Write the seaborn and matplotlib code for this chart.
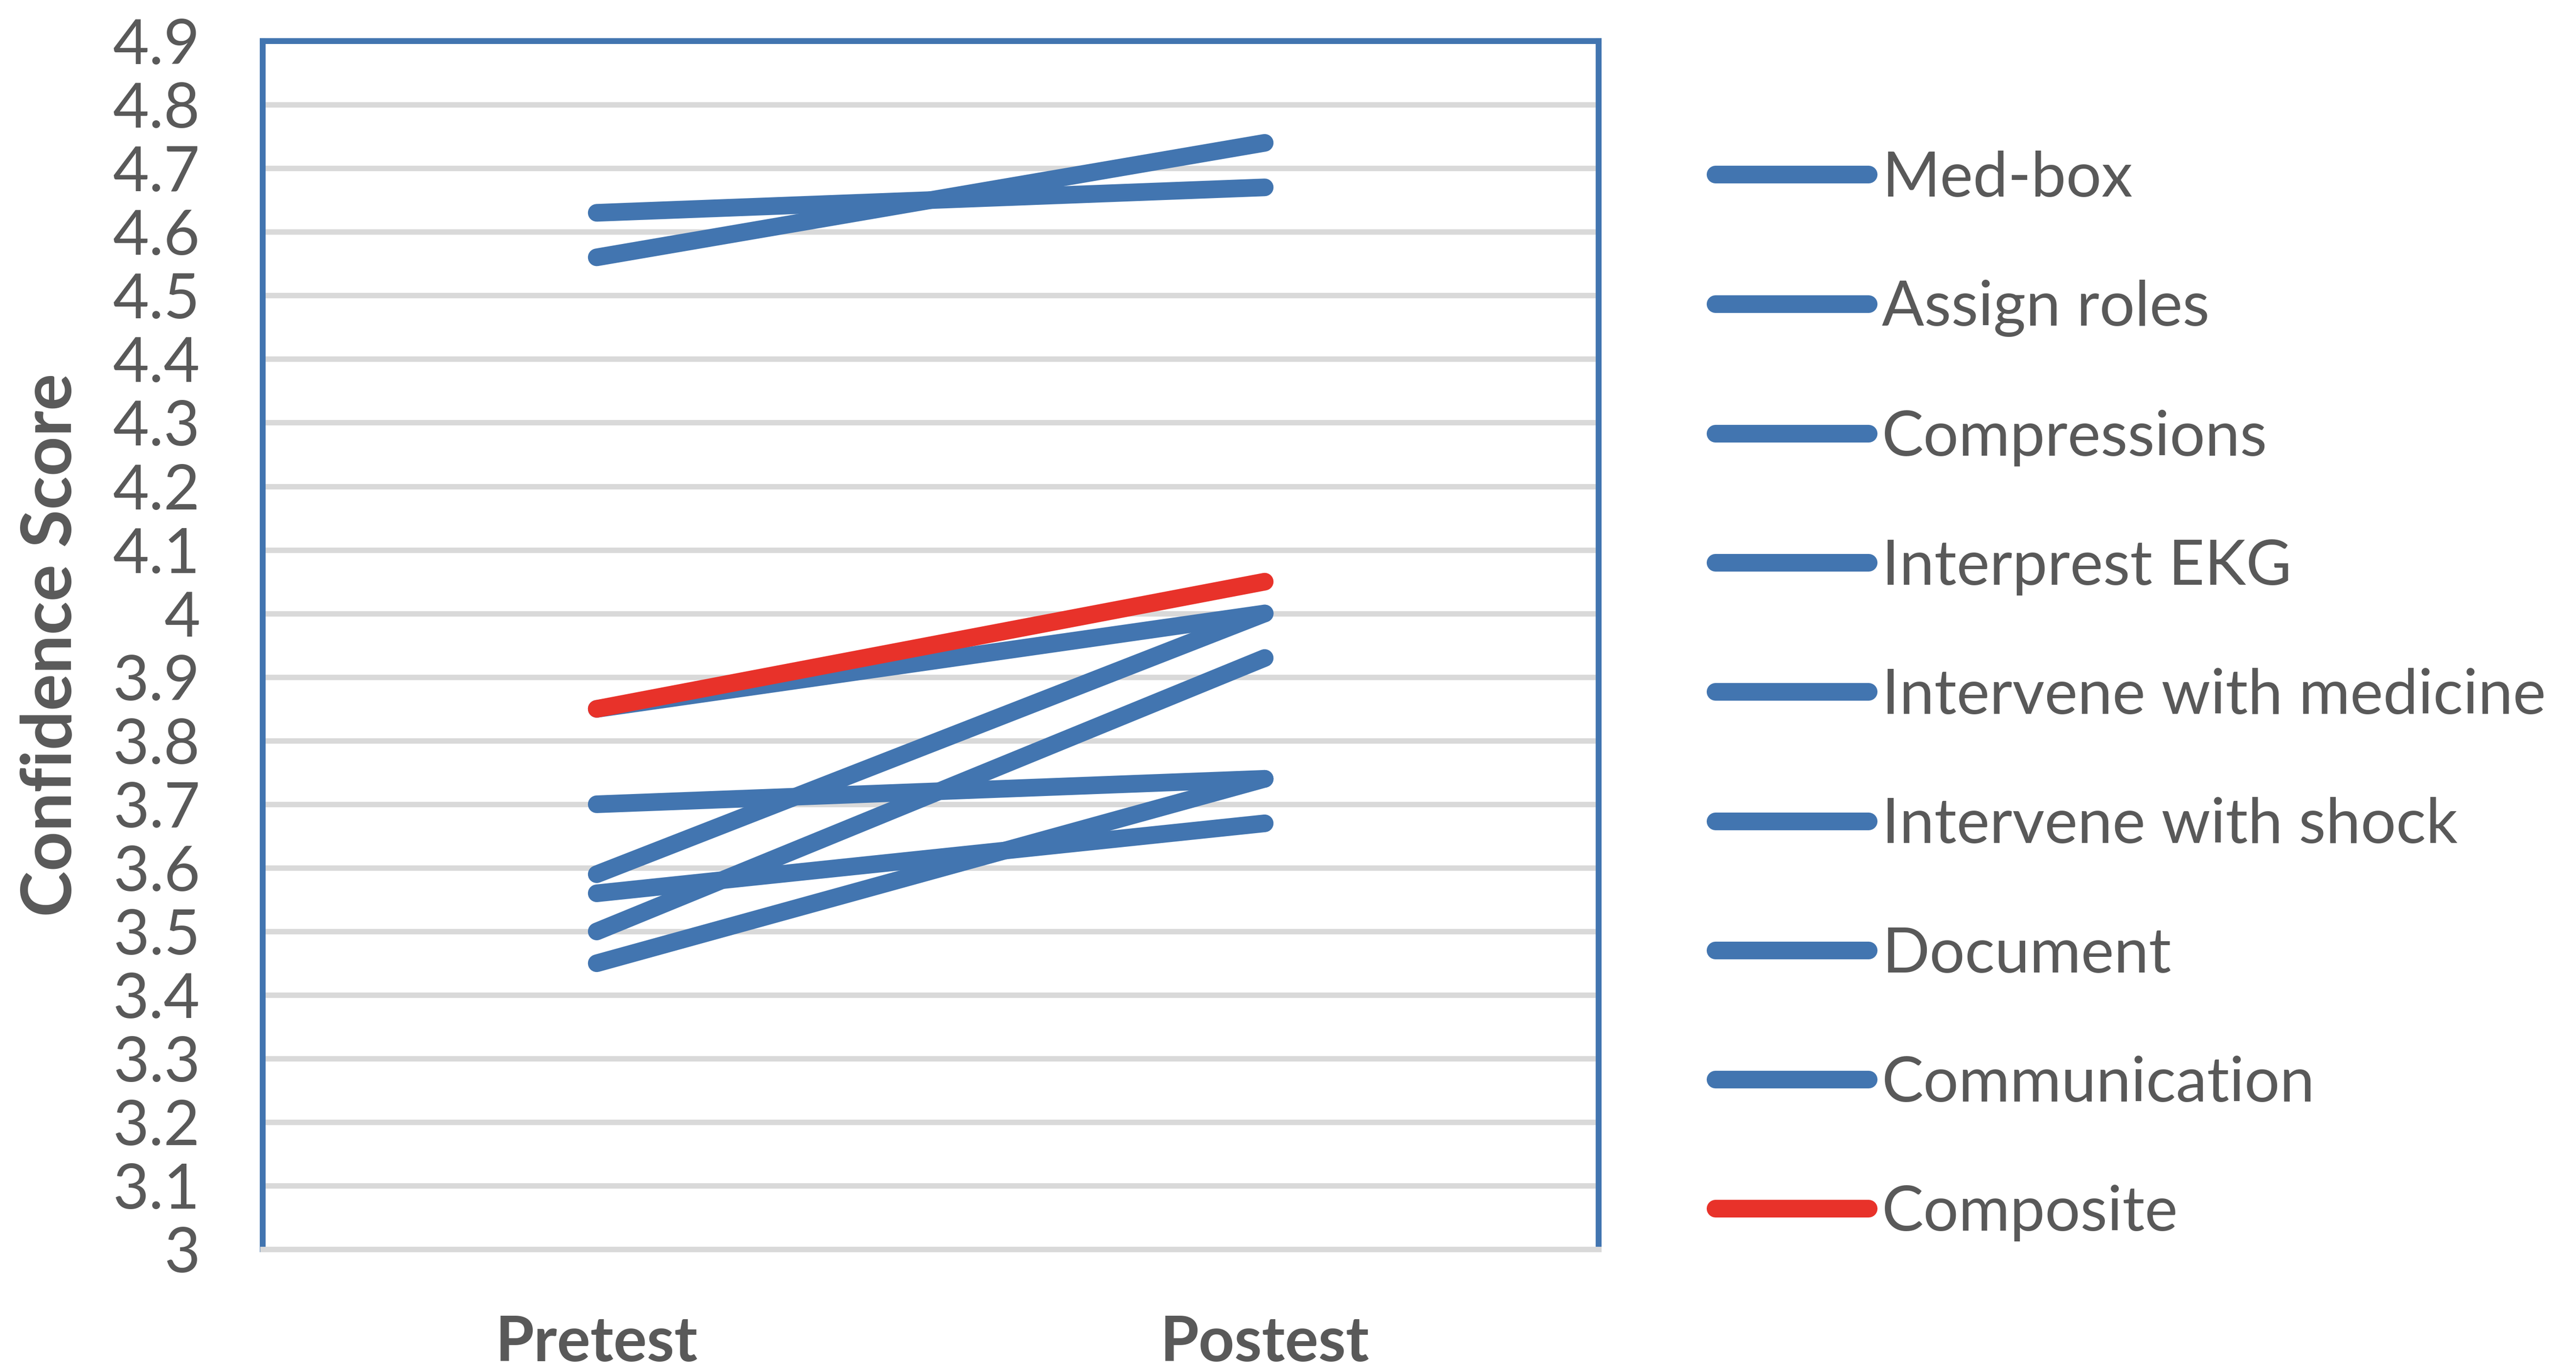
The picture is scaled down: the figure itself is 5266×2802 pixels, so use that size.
import pandas as pd
import matplotlib
matplotlib.use("Agg")
import matplotlib.pyplot as plt
import matplotlib.ticker as mticker
import seaborn as sns

# dados
tests = ["Pretest", "Postest"]
skills = ["Med-box", "Assign roles", "Compressions", "Interprest EKG",
          "Intervene with medicine", "Intervene with shock", "Document",
          "Communication", "Composite"]
pretest = [4.63, 4.56, 3.85, 3.59, 3.50, 3.70, 3.56, 3.45, 3.85]
postest = [4.67, 4.74, 4.00, 4.00, 3.93, 3.74, 3.67, 3.74, 4.05]

BLUE = "#4275B0"
RED = "#E8322A"
GRAY = "#595959"
GRID = "#D9D9D9"

df = pd.DataFrame({
    "skill": skills * 2,
    "test": [tests[0]] * len(skills) + [tests[1]] * len(skills),
    "score": pretest + postest,
})
palette = {s: BLUE for s in skills}
palette["Composite"] = RED

sns.set_theme(style="white")
plt.rcParams["font.family"] = ["Lato", "DejaVu Sans"]

fig = plt.figure(figsize=(26.33, 14.01), dpi=200)
ax = fig.add_axes([0.102, 0.088, 0.5186, 0.882])

sns.lineplot(data=df, x="test", y="score", hue="skill", hue_order=skills,
             palette=palette, linewidth=13, solid_capstyle="round",
             sort=False, ax=ax)

ax.set_xlim(-0.5, 1.5)
ax.set_ylim(3, 4.9)
ax.yaxis.set_major_locator(mticker.MultipleLocator(0.1))
ax.yaxis.set_major_formatter(mticker.FuncFormatter(lambda v, p: f"{round(v, 1):g}"))
ax.grid(axis="y", color=GRID, linewidth=4)
ax.set_axisbelow(True)

for side in ["left", "top", "right"]:
    ax.spines[side].set_color(BLUE)
    ax.spines[side].set_linewidth(4.3)
ax.spines["bottom"].set_color(GRID)
ax.spines["bottom"].set_linewidth(4)

ax.tick_params(axis="y", length=0, pad=46, labelsize=46, labelcolor=GRAY)
ax.tick_params(axis="x", length=0, pad=48, labelsize=46, labelcolor=GRAY)
for lbl in ax.get_xticklabels():
    lbl.set_fontweight("bold")

ax.set_xlabel("")
ax.set_ylabel("Confidence Score", fontsize=51, fontweight="bold", color=GRAY, labelpad=22)

handles, labels = ax.get_legend_handles_labels()
ax.get_legend().remove()
leg = fig.legend(handles, labels, loc="upper left", bbox_to_anchor=(0.666, 0.89),
                 frameon=False, fontsize=46, handlelength=2.45, handletextpad=0.21,
                 labelspacing=1.16, borderpad=0, borderaxespad=0)
for line in leg.get_lines():
    line.set_linewidth(13)
    line.set_solid_capstyle("round")
for txt in leg.get_texts():
    txt.set_color(GRAY)

fig.savefig("out.png", dpi=200, facecolor="white")
